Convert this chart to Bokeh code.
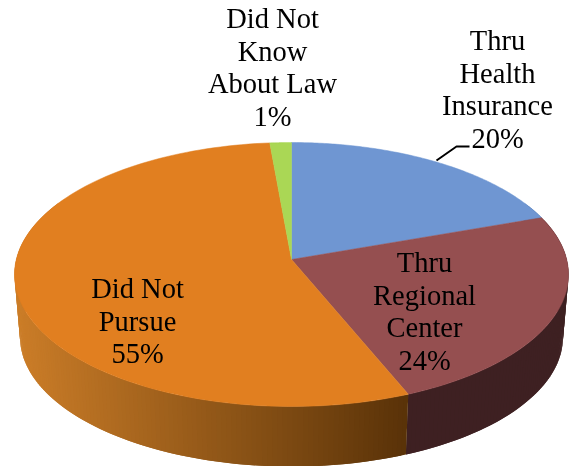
import numpy as np
from bokeh.plotting import figure
from bokeh.models import Range1d
from bokeh.core.properties import value
from bokeh.embed import file_html
from bokeh.resources import INLINE

# Data: shares (slices clockwise from 12 o'clock) and their printed labels
categories = ["Thru Health Insurance", "Thru Regional Center", "Did Not Pursue", "Did Not Know About Law"]
shares = [19.6, 24.2, 54.8, 1.4]
percent_labels = ["20%", "24%", "55%", "1%"]
label_lines = [["Thru", "Health", "Insurance"], ["Thru", "Regional", "Center"], ["Did Not", "Pursue"], ["Did Not", "Know", "About Law"]]

# Style and layout
top_colors = ["#6f96d2", "#954f50", "#e17f20", "#aad755"]
wall_colors = [("#4a6ea0", "#4a6ea0"), ("#3e2022", "#3e2022"), ("#cb7d28", "#593208"), ("#7fa040", "#7fa040")]
label_x = [497, 424, 137, 272]
label_y = [40, 262, 288, 18]
LINE = 32.7
FONT = "Liberation Serif"
SIZE = "28.5px"

W, H = 569, 466
CX, CY = 291.0, 259.0       # apex of the pie in page pixels
A, B, K = 130.3, 275.2, 0.1136  # perspective of the circular top
DEPTH, SHRINK = 63.0, 0.98  # the lower rim


def top_pt(theta):
    u, v = np.sin(theta), np.cos(theta)
    d = 1 + K * v
    return CX + B * u / d, CY - A * v / d


def low_pt(theta):
    x, y = top_pt(theta)
    return CX + (x - CX) * SHRINK, CY + DEPTH + (y - CY) * SHRINK


def mix(c0, c1, t):
    a = [int(c0[i:i + 2], 16) for i in (1, 3, 5)]
    b = [int(c1[i:i + 2], 16) for i in (1, 3, 5)]
    return "#%02x%02x%02x" % tuple(int(round(p + (q - p) * t)) for p, q in zip(a, b))


p = figure(width=W, height=H, x_range=Range1d(0, W), y_range=Range1d(H, 0),
           toolbar_location=None, output_backend="svg", min_border=0, tools="")
p.axis.visible = False
p.grid.visible = False
p.outline_line_color = None
p.styles = {"position": "fixed", "left": "0px", "top": "0px"}

total = sum(shares)
edges = 2 * np.pi * np.cumsum([0] + shares) / total

# side walls: overlapping strips along the front of the rim, shaded by horizontal position
for i in range(len(shares)):
    a0, a1 = edges[i], edges[i + 1]
    lo, hi = max(a0, np.pi * 0.35), min(a1, np.pi * 1.65)
    if hi <= lo:
        continue
    n = max(2, int((hi - lo) * 60))
    ts = np.linspace(lo, hi, n + 1)
    for k in range(n):
        t0, t1 = ts[k], ts[min(k + 2, n)]
        xa, ya = top_pt(t0)
        xb, yb = top_pt(t1)
        xc, yc = low_pt(t1)
        xd, yd = low_pt(t0)
        f = np.clip((0.5 * (xa + xb) - 14) / (406 - 14), 0, 1)
        col = mix(wall_colors[i][0], wall_colors[i][1], f)
        p.patch([xa, xb, xc, xd], [ya, yb, yc, yd], fill_color=col, line_color=None)

# top face
for i in range(len(shares)):
    ts = np.linspace(edges[i], edges[i + 1], 120)
    xs, ys = top_pt(ts)
    p.patch(np.r_[CX, xs], np.r_[CY, ys], fill_color=top_colors[i], line_color=top_colors[i], line_width=0.5)

# leader line for the blue slice
p.line([436, 456, 469], [160, 146, 146], line_color="black", line_width=2)

# labels
for lines, pct, x, y in zip(label_lines, percent_labels, label_x, label_y):
    rows = lines + [pct]
    p.text(x=[x] * len(rows), y=[y + LINE * j for j in range(len(rows))], text=rows,
           text_align="center", text_baseline="middle", text_color="black",
           text_font=value(FONT), text_font_size=value(SIZE))

open("out.html", "w").write(file_html(p, INLINE))
